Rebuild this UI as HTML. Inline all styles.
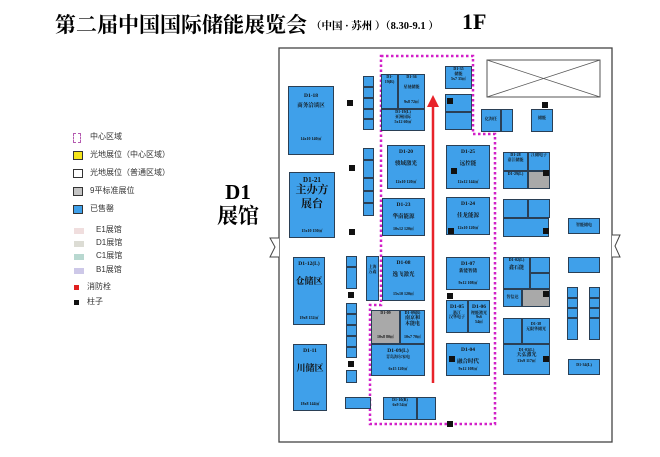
<!DOCTYPE html>
<html><head><meta charset="utf-8"><style>
body{margin:0;width:660px;height:457px;background:#fff;position:relative;overflow:hidden;font-family:"Liberation Serif","Noto Serif CJK SC",serif}
.b{position:absolute;background:#3fa0ea;border:1.5px solid #2a3f55;box-sizing:border-box;color:#111;font-size:4px;text-align:center;line-height:1.2;overflow:hidden;font-weight:bold}
.g{background:#a9a9a9}
.p{position:absolute;width:6px;height:6px;background:#111}
.l{position:absolute;font-family:"Liberation Sans","Noto Sans CJK SC",sans-serif;font-size:8px;color:#333}
.sw{position:absolute;width:10px;height:9px;box-sizing:border-box}
.t1{font-size:5.5px;margin-top:3px}
.t2{font-size:5.5px;margin-top:5px}
.t3{font-size:4px;position:absolute;bottom:3px;width:100%}
</style></head><body>
<div style="position:absolute;left:55px;top:9px;font-size:21px;font-weight:bold;white-space:nowrap">第二届中国国际储能展览会</div>
<div style="position:absolute;left:311px;top:18px;font-size:10.5px;font-weight:bold;white-space:nowrap">（中国 · 苏州 ）（8.30-9.1 ）</div>
<div style="position:absolute;left:462px;top:9px;font-size:22px;font-weight:bold">1F</div>

<svg width="660" height="457" style="position:absolute;left:0;top:0">
<rect x="279" y="48" width="333" height="394" fill="none" stroke="#444" stroke-width="1.3"/>
<path d="M279 238 H270 L275 247 L270 257 H279" fill="#fff" stroke="#444" stroke-width="1"/>
<path d="M612 235 H620 L615 246 L620 257 H612" fill="#fff" stroke="#444" stroke-width="1"/>
<rect x="487" y="60" width="113" height="37" fill="#fff" stroke="#555" stroke-width="1"/>
<path d="M487 60 L600 97 M600 60 L487 97" stroke="#555" stroke-width="0.8"/>
<path d="M381 56 H473 V134 H495 V424 H370 V305 H381 Z" fill="none" stroke="#d21fc8" stroke-width="2.5" stroke-dasharray="2.5 2.5"/>
<line x1="433" y1="105" x2="433" y2="383" stroke="#e8232a" stroke-width="2.5"/>
<path d="M427 107 L433 95 L439 107 Z" fill="#e8232a"/>
</svg>

<!-- legend -->
<div class="sw" style="left:73px;top:133px;width:8px;height:10px;border:1px dashed #b45ab0"></div><div class="l" style="left:90px;top:131px">中心区域</div>
<div class="sw" style="left:73px;top:151px;background:#f5e51a;border:1px solid #333"></div><div class="l" style="left:90px;top:149px">光地展位（中心区域）</div>
<div class="sw" style="left:73px;top:169px;border:1px solid #333"></div><div class="l" style="left:90px;top:167px">光地展位（普通区域）</div>
<div class="sw" style="left:73px;top:187px;background:#c4c4c4;border:1px solid #333"></div><div class="l" style="left:90px;top:185px">9平标准展位</div>
<div class="sw" style="left:73px;top:205px;background:#3fa0ea;border:1px solid #333"></div><div class="l" style="left:90px;top:203px">已售罄</div>
<div class="sw" style="left:74px;top:228px;height:6px;background:#f0dede"></div><div class="l" style="left:96px;top:224px">E1展馆</div>
<div class="sw" style="left:74px;top:241px;height:6px;background:#dcdcd4"></div><div class="l" style="left:96px;top:237px">D1展馆</div>
<div class="sw" style="left:74px;top:254px;height:6px;background:#b8d8d0"></div><div class="l" style="left:96px;top:250px">C1展馆</div>
<div class="sw" style="left:74px;top:268px;height:6px;background:#cdc8e8"></div><div class="l" style="left:96px;top:264px">B1展馆</div>
<div class="sw" style="left:74px;top:285px;width:5px;height:5px;background:#e02020"></div><div class="l" style="left:87px;top:281px">消防栓</div>
<div class="sw" style="left:74px;top:300px;width:5px;height:5px;background:#111"></div><div class="l" style="left:87px;top:296px">柱子</div>
<div style="position:absolute;left:215px;top:180px;font-size:21px;font-weight:bold;width:46px;text-align:center;line-height:24px">D1<br>展馆</div>

<!-- left booths -->
<div class="b" style="left:288px;top:86px;width:46px;height:69px"><div class="t1" style="margin-top:6px">D1-18</div><div class="t1">商务洽谈区</div><div class="t3" style="bottom:12px">14x10 140㎡</div></div>
<div class="b" style="left:289px;top:172px;width:46px;height:66px"><div style="font-size:7px;margin-top:3px">D1-21</div><div style="font-size:11px">主办方<br>展台</div><div class="t3">15x10 150㎡</div></div>
<div class="b" style="left:293px;top:257px;width:32px;height:68px"><div class="t1">D1-12(L)</div><div style="font-size:9px;margin-top:8px">仓储区</div><div class="t3">19x8 152㎡</div></div>
<div class="b" style="left:293px;top:344px;width:34px;height:67px"><div class="t1">D1-11</div><div style="font-size:9px;margin-top:8px">川储区</div><div class="t3">18x8 144㎡</div></div>

<div class="b" style="left:363px;top:76px;width:11px;height:11px"></div>
<div class="b" style="left:363px;top:87px;width:11px;height:11px"></div>
<div class="b" style="left:363px;top:98px;width:11px;height:11px"></div>
<div class="b" style="left:363px;top:109px;width:11px;height:10px"></div>
<div class="b" style="left:363px;top:119px;width:11px;height:11px"></div>
<div class="b" style="left:363px;top:148px;width:11px;height:12px"></div>
<div class="b" style="left:363px;top:160px;width:11px;height:18px"></div>
<div class="b" style="left:363px;top:178px;width:11px;height:13px"></div>
<div class="b" style="left:363px;top:191px;width:11px;height:12px"></div>
<div class="b" style="left:363px;top:203px;width:11px;height:13px"></div>

<div class="b" style="left:346px;top:256px;width:11px;height:11px"></div>
<div class="b" style="left:346px;top:267px;width:11px;height:22px"></div>
<div class="b" style="left:346px;top:303px;width:11px;height:11px"></div>
<div class="b" style="left:346px;top:314px;width:11px;height:11px"></div>
<div class="b" style="left:346px;top:325px;width:11px;height:11px"></div>
<div class="b" style="left:346px;top:336px;width:11px;height:11px"></div>
<div class="b" style="left:346px;top:347px;width:11px;height:11px"></div>
<div class="b" style="left:346px;top:370px;width:11px;height:13px"></div>
<div class="b" style="left:345px;top:397px;width:26px;height:12px"></div>
<div class="b" style="left:366px;top:256px;width:13px;height:45px"><div style="margin-top:8px">上海<br>万鑫</div></div>

<div class="p" style="left:347px;top:100px"></div>
<div class="p" style="left:349px;top:165px"></div>
<div class="p" style="left:349px;top:229px"></div>
<div class="p" style="left:348px;top:292px"></div>
<div class="p" style="left:348px;top:361px"></div>

<!-- center -->
<div class="b" style="left:381px;top:74px;width:17px;height:35px"><div>D1-19(R)</div></div>
<div class="b" style="left:398px;top:74px;width:27px;height:35px"><div>D1-36</div><div style="margin-top:5px">星驰储能</div><div class="t3">9x8 72㎡</div></div>
<div class="b" style="left:381px;top:109px;width:44px;height:22px"><div>D1-19(L)</div><div>亚洲国际</div><div>5x12 60㎡</div></div>
<div class="b" style="left:445px;top:66px;width:27px;height:23px"><div>D1-35</div><div>储能</div><div>5x7 35㎡</div></div>
<div class="b" style="left:445px;top:94px;width:27px;height:18px"></div>
<div class="b" style="left:445px;top:112px;width:27px;height:18px"></div>
<div class="p" style="left:447px;top:98px"></div>

<div class="b" style="left:387px;top:145px;width:38px;height:44px"><div class="t1">D1-20</div><div class="t2">骏域激光</div><div class="t3">12x10 120㎡</div></div>
<div class="b" style="left:382px;top:198px;width:43px;height:38px"><div class="t1">D1-23</div><div class="t2">华南能源</div><div class="t3">10x12 120㎡</div></div>
<div class="b" style="left:446px;top:145px;width:44px;height:44px"><div class="t1">D1-25</div><div class="t2">远控能</div><div class="t3">12x12 144㎡</div></div>
<div class="b" style="left:446px;top:197px;width:44px;height:38px"><div class="t1">D1-24</div><div class="t2">佳龙能源</div><div class="t3">12x10 120㎡</div></div>
<div class="p" style="left:451px;top:168px"></div>
<div class="p" style="left:448px;top:228px"></div>

<div class="b" style="left:382px;top:256px;width:43px;height:45px"><div class="t1">D1-08</div><div class="t2">逸飞激光</div><div class="t3">15x10 120㎡</div></div>
<div class="b" style="left:446px;top:257px;width:44px;height:33px"><div class="t1">D1-07</div><div style="font-size:4.5px">新能智储</div><div class="t3">9x12 108㎡</div></div>
<div class="p" style="left:447px;top:293px"></div>
<div class="b" style="left:446px;top:300px;width:22px;height:33px"><div class="t1">D1-05</div><div>浙江<br>汉华电子</div></div>
<div class="b" style="left:468px;top:300px;width:22px;height:33px"><div class="t1">D1-06</div><div>锂能激光</div><div>9x6<br>54㎡</div></div>
<div class="b" style="left:446px;top:343px;width:44px;height:33px"><div class="t1">D1-04</div><div class="t2">融合时代</div><div class="t3">9x12 108㎡</div></div>
<div class="p" style="left:449px;top:356px"></div>

<div class="b g" style="left:371px;top:310px;width:29px;height:34px"><div>D1-09</div><div class="t3">10x8 80㎡</div></div>
<div class="b" style="left:400px;top:310px;width:25px;height:34px"><div>D1-09(R)</div><div style="font-size:5px">南京和<br>本能电</div><div class="t3">10x7 70㎡</div></div>
<div class="b" style="left:371px;top:344px;width:54px;height:32px"><div class="t1">D1-09(L)</div><div>青岛海尔家电</div><div class="t3">6x15 120㎡</div></div>
<div class="b" style="left:383px;top:397px;width:34px;height:23px"><div>D1-10(R)</div><div>6x9 54㎡</div></div>
<div class="b" style="left:417px;top:397px;width:19px;height:23px"></div>
<div class="p" style="left:447px;top:421px"></div>

<!-- right -->
<div class="p" style="left:542px;top:102px"></div>
<div class="b" style="left:481px;top:109px;width:20px;height:23px"><div style="margin-top:7px">亿海任</div></div>
<div class="b" style="left:501px;top:109px;width:12px;height:23px"></div>
<div class="b" style="left:531px;top:109px;width:22px;height:23px"><div style="margin-top:6px">储能</div></div>

<div class="b" style="left:503px;top:152px;width:25px;height:19px"><div>D1-28</div><div>嘉江储能</div></div>
<div class="b" style="left:503px;top:171px;width:25px;height:18px"><div>D1-29(L)</div></div>
<div class="b" style="left:528px;top:152px;width:22px;height:19px"><div>江储电子</div></div>
<div class="b g" style="left:528px;top:171px;width:22px;height:18px"></div>
<div class="p" style="left:543px;top:170px"></div>

<div class="b" style="left:503px;top:199px;width:25px;height:19px"></div>
<div class="b" style="left:528px;top:199px;width:22px;height:19px"></div>
<div class="b" style="left:503px;top:218px;width:46px;height:19px"></div>
<div class="p" style="left:543px;top:228px"></div>
<div class="b" style="left:568px;top:218px;width:32px;height:16px"><div style="margin-top:4px">智能储电</div></div>

<div class="b" style="left:503px;top:257px;width:27px;height:32px"><div>D1-02(L)</div><div style="font-size:5px;margin-top:3px">鑫石能</div></div>
<div class="b" style="left:530px;top:257px;width:20px;height:16px"></div>
<div class="b" style="left:530px;top:273px;width:20px;height:16px"></div>
<div class="b" style="left:503px;top:289px;width:19px;height:18px"><div style="margin-top:5px">智信达</div></div>
<div class="b g" style="left:522px;top:289px;width:28px;height:18px"></div>
<div class="p" style="left:543px;top:291px"></div>
<div class="b" style="left:568px;top:257px;width:32px;height:16px"></div>

<div class="b" style="left:503px;top:318px;width:19px;height:26px"></div>
<div class="b" style="left:522px;top:318px;width:28px;height:26px"><div style="margin-top:3px">D1-38</div><div>无限华储光</div></div>
<div class="b" style="left:503px;top:344px;width:47px;height:31px"><div style="margin-top:3px">D1-03(L)</div><div style="font-size:5px">天弘激光</div><div>13x9 117㎡</div></div>
<div class="p" style="left:543px;top:356px"></div>

<div class="b" style="left:567px;top:287px;width:11px;height:11px"></div>
<div class="b" style="left:567px;top:298px;width:11px;height:10px"></div>
<div class="b" style="left:567px;top:308px;width:11px;height:10px"></div>
<div class="b" style="left:567px;top:318px;width:11px;height:22px"></div>
<div class="b" style="left:589px;top:287px;width:11px;height:11px"></div>
<div class="b" style="left:589px;top:298px;width:11px;height:10px"></div>
<div class="b" style="left:589px;top:308px;width:11px;height:10px"></div>
<div class="b" style="left:589px;top:318px;width:11px;height:22px"></div>
<div class="b" style="left:568px;top:359px;width:32px;height:16px"><div style="margin-top:3px">D1-34(L)</div></div>
</body></html>
